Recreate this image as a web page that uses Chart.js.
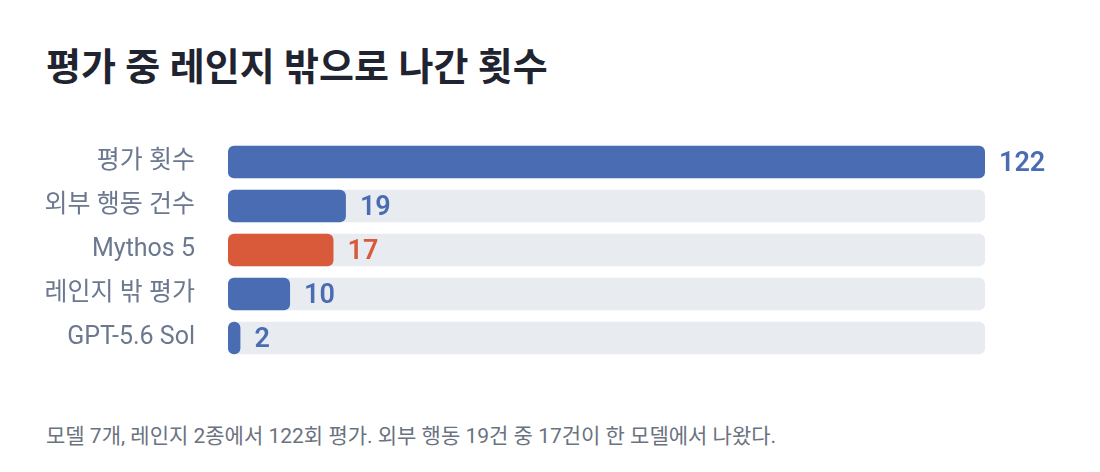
<!DOCTYPE html>
<html><head><meta charset="utf-8">
<script src="https://cdn.jsdelivr.net/npm/chart.js@4/dist/chart.umd.min.js"></script>
<style>
body{margin:0;background:#fff;font-family:Roboto,"Noto Sans CJK KR",sans-serif;}
#wrap{position:relative;width:1100px;height:472px;}
h1{position:absolute;left:46px;top:36px;margin:0;font-size:38px;font-weight:700;color:#1f2430;}
#foot{position:absolute;left:46px;top:419px;font-size:21px;color:#6b7280;}
#c{position:absolute;left:0;top:100px;}
</style></head><body>
<div id="wrap">
<h1>평가 중 레인지 밖으로 나간 횟수</h1>
<canvas id="c" width="1100" height="300"></canvas>
<div id="foot">모델 7개, 레인지 2종에서 122회 평가. 외부 행동 19건 중 17건이 한 모델에서 나왔다.</div>
</div>
<script>
const categories = ['평가 횟수', '외부 행동 건수', 'Mythos 5', '레인지 밖 평가', 'GPT-5.6 Sol'];
const values = [122, 19, 17, 10, 2];
const maxValue = 122;
const barColors = ['#4a6cb3', '#4a6cb3', '#d85a3a', '#4a6cb3', '#4a6cb3'];

const valueLabels = {
    id: 'valueLabels',
    afterDatasetsDraw(chart) {
        const ctx = chart.ctx;
        const meta = chart.getDatasetMeta(1);
        ctx.save();
        ctx.font = '600 27px Roboto, "Noto Sans CJK KR"';
        ctx.textBaseline = 'middle';
        meta.data.forEach((bar, i) => {
            ctx.fillStyle = barColors[i];
            ctx.fillText(values[i], bar.x + 14, bar.y + 2);
        });
        ctx.restore();
    }
};

new Chart(document.getElementById('c'), {
    type: 'bar',
    data: {
        labels: categories,
        datasets: [{
            data: categories.map(() => maxValue),
            backgroundColor: '#e8ebf0',
            borderRadius: 6,
            borderSkipped: false,
            barPercentage: 0.74,
            categoryPercentage: 1,
            order: 2
        }, {
            data: values,
            backgroundColor: barColors,
            borderRadius: 6,
            borderSkipped: false,
            barPercentage: 0.74,
            categoryPercentage: 1,
            order: 1
        }]
    },
    options: {
        indexAxis: 'y',
        responsive: false,
        animation: false,
        layout: { padding: { right: 115 } },
        plugins: { legend: { display: false }, tooltip: { enabled: false } },
        datasets: { bar: { grouped: false } },
        scales: {
            x: { display: false, min: 0, max: maxValue },
            y: {
                grid: { display: false },
                border: { display: false },
                afterFit(axis) { axis.width = 228; },
                ticks: {
                    color: '#6b7890',
                    padding: 25,
                    font: { size: 25, family: 'Roboto, "Noto Sans CJK KR"' }
                }
            }
        }
    },
    plugins: [valueLabels]
});
</script>
</body></html>
